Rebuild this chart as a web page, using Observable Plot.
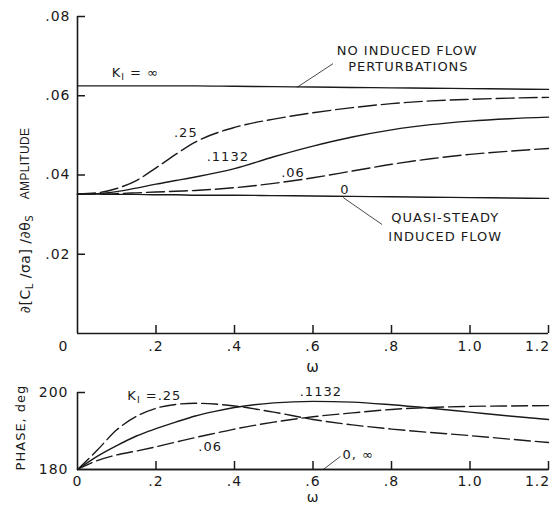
<!DOCTYPE html>
<html><head><meta charset="utf-8">
<script src="https://cdn.jsdelivr.net/npm/d3@7"></script>
<script src="https://cdn.jsdelivr.net/npm/@observablehq/plot@0.6"></script>
<style>
body{margin:0;background:#fff;}
#chart{position:relative;width:559px;height:507px;background:#fff;}
#chart svg{position:absolute;left:0;overflow:visible;}
#chart text{letter-spacing:1px;}
</style></head><body><div id="chart"></div>
<script>
// ---------- DATA ----------
// Amplitude panel
const omegaAmp = [0, 0.05, 0.1, 0.15, 0.2, 0.25, 0.3, 0.4, 0.5, 0.6, 0.7, 0.8, 0.9, 1.0, 1.1, 1.2];
const ampInf   = [.0625,.0625,.0625,.0625,.0625,.0625,.0625,.0624,.0623,.0622,.0621,.0620,.0619,.0618,.0617,.0616];
const amp25    = [.0352,.0355,.0366,.0386,.0418,.0452,.0483,.0520,.0541,.0557,.0570,.0580,.0587,.0591,.0594,.0596];
const amp1132  = [.0352,.0353,.0358,.0367,.0377,.0386,.0395,.0416,.0446,.0473,.0496,.0514,.0527,.0536,.0542,.0546];
const amp06    = [.0352,.0352,.0353,.0355,.0357,.0359,.0361,.0368,.0379,.0393,.0410,.0427,.0441,.0452,.0460,.0467];
const amp0     = [.0352,.0352,.0351,.0351,.0350,.0350,.0349,.0349,.0348,.0347,.0346,.0345,.0344,.0343,.0342,.0341];
// Phase panel
const omegaPh  = [0, 0.05, 0.1, 0.15, 0.2, 0.25, 0.3, 0.35, 0.4, 0.5, 0.6, 0.7, 0.8, 0.9, 1.0, 1.1, 1.2];
const ph25     = [180,185.0,190.3,193.8,195.9,196.9,197.2,197.0,196.5,194.9,193.0,191.6,190.5,189.6,188.8,187.9,187.0];
const ph1132   = [180,183.4,186.2,188.7,190.6,192.3,193.9,195.1,196.1,197.3,197.7,197.5,196.8,195.9,194.9,193.9,193.0];
const ph06     = [180,182.3,183.8,184.8,185.9,187.1,188.3,189.4,190.5,192.3,193.7,194.7,195.6,196.1,196.4,196.5,196.6];
const ph0inf   = [180,180,180,180,180,180,180,180,180,180,180,180,180,180,180,180,180];
// Ticks
const xTicks      = [0.2, 0.4, 0.6, 0.8, 1.0, 1.2];
const xLabelsTop  = [0.2, 0.4, 0.6, 0.8, 1.0];
const xLabelsBot  = [0, 0.2, 0.4, 0.6, 0.8, 1.0];
const xLabelEnd   = [1.2];
const yTicksAmp   = [0.02, 0.04, 0.06, 0.08];
const yTicksPh    = [200];
const yLabelsPh   = [180, 200];
// Annotations (text, position)
const ampLabels = [
  {t: "K_{I} = ∞", x: 0.087, y: 0.0659, a: "start"},
  {t: "NO INDUCED FLOW", x: 0.840, y: 0.0714, a: "middle"},
  {t: "PERTURBATIONS", x: 0.843, y: 0.0674, a: "middle"},
  {t: ".25", x: 0.276, y: 0.0507, a: "middle"},
  {t: ".1132", x: 0.383, y: 0.0447, a: "middle"},
  {t: ".06", x: 0.549, y: 0.0406, a: "middle"},
  {t: "0", x: 0.681, y: 0.0363, a: "middle"},
  {t: "QUASI-STEADY", x: 0.937, y: 0.0293, a: "middle"},
  {t: "INDUCED FLOW", x: 0.937, y: 0.0245, a: "middle"}
];
const ampLeaders = [
  {x1: 0.651, y1: 0.0681, x2: 0.559, y2: 0.0621},
  {x1: 0.677, y1: 0.0343, x2: 0.776, y2: 0.0275}
];
const phLabels = [
  {t: "K_{I} =.25", x: 0.127, y: 199.2, a: "start"},
  {t: ".1132", x: 0.620, y: 200.3, a: "middle"},
  {t: ".06", x: 0.338, y: 186.0, a: "middle"},
  {t: "0, ∞", x: 0.675, y: 183.9, a: "start"}
];
const phLeaders = [{x1: 0.670, y1: 183.4, x2: 0.626, y2: 180}];

// ---------- BUILD ----------
function longForm(xs, series) {
  const out = [];
  series.forEach(s => xs.forEach((w, i) => out.push({w, v: s.v[i], k: s.k, dash: s.dash})));
  return out;
}
const ampData = longForm(omegaAmp, [
  {k: "∞", v: ampInf, dash: false}, {k: ".25", v: amp25, dash: true},
  {k: ".1132", v: amp1132, dash: false}, {k: ".06", v: amp06, dash: true},
  {k: "0", v: amp0, dash: false}]);
const phData = longForm(omegaPh, [
  {k: ".25", v: ph25, dash: true}, {k: ".1132", v: ph1132, dash: false},
  {k: ".06", v: ph06, dash: true}, {k: "0,∞", v: ph0inf, dash: false}]);

const ink = "#1a1a1a";
const font = "DejaVu Sans";
const fmtX = d => d === 0 ? "0" : (d >= 1 ? d.toFixed(1) : d.toFixed(1).replace(/^0/, ""));

function textMarks(labels, fs) {
  return [
    Plot.text(labels.filter(d => d.a === "start"), {x: "x", y: "y", text: "t", textAnchor: "start", lineAnchor: "middle", fontSize: fs}),
    Plot.text(labels.filter(d => d.a === "middle"), {x: "x", y: "y", text: "t", textAnchor: "middle", lineAnchor: "middle", fontSize: fs})
  ];
}

const W = 559, mL = 77, mR = 11;
const frameW = W - mL - mR;

const topH = 380, topMT = 16, topMB = 47;
const topFH = topH - topMT - topMB;
const topPlot = Plot.plot({
  width: W, height: topH, marginTop: topMT, marginBottom: topMB, marginLeft: mL, marginRight: mR,
  style: {fontFamily: font, fontSize: "14px", color: ink, background: "transparent"},
  x: {domain: [0, 1.2]}, y: {domain: [0, 0.08]},
  marks: [
    Plot.ruleX([0], {stroke: ink, strokeWidth: 1.6}),
    Plot.ruleY([0], {stroke: ink, strokeWidth: 1.6}),
    Plot.tickY(yTicksAmp, {y: d => d, insetRight: frameW - 8, stroke: ink, strokeWidth: 1.5}),
    Plot.tickX(xTicks, {x: d => d, insetTop: topFH - 8, stroke: ink, strokeWidth: 1.5}),
    Plot.axisY(yTicksAmp, {tickSize: 0, tickPadding: 7, label: null, fontSize: 14,
      tickFormat: d => d.toFixed(2).replace(/^0/, "")}),
    Plot.axisX(xLabelsTop, {tickSize: 0, tickPadding: 8, label: null, fontSize: 14, tickFormat: fmtX}),
    Plot.axisX(xLabelEnd, {tickSize: 0, tickPadding: 8, label: null, fontSize: 14, tickFormat: fmtX, dx: -11}),
    Plot.text(["0"], {frameAnchor: "bottom-left", textAnchor: "middle", dx: -14, dy: 13.5, lineAnchor: "middle", fontSize: 14}),
    Plot.text(["ω"], {frameAnchor: "bottom", textAnchor: "middle", dy: 34, lineAnchor: "middle", fontSize: 15}),
    Plot.text(["AMPLITUDE"], {frameAnchor: "left", textAnchor: "middle", rotate: -90, dx: -52, dy: -11.5, lineAnchor: "middle", fontSize: 12, fontFamily: "Liberation Sans"}),
    Plot.text(["∂[C_{L} /σa] /∂θ_{S}"], {frameAnchor: "left", textAnchor: "middle", rotate: -90, dx: -52, dy: 89, lineAnchor: "middle", fontSize: 14}),
    Plot.line(ampData.filter(d => !d.dash), {x: "w", y: "v", z: "k", curve: "monotone-x", stroke: ink, strokeWidth: 1.4}),
    Plot.line(ampData.filter(d => d.dash), {x: "w", y: "v", z: "k", curve: "monotone-x", stroke: ink, strokeWidth: 1.4, strokeDasharray: "18,5"}),
    Plot.link(ampLeaders, {x1: "x1", y1: "y1", x2: "x2", y2: "y2", stroke: ink, strokeWidth: 0.8}),
    ...textMarks(ampLabels, 13)
  ]
});

const botH = 127, botMT = 12, botMB = 38;
const botFH = botH - botMT - botMB;
const botPlot = Plot.plot({
  width: W, height: botH, marginTop: botMT, marginBottom: botMB, marginLeft: mL, marginRight: mR,
  style: {fontFamily: font, fontSize: "14px", color: ink, background: "transparent"},
  x: {domain: [0, 1.2]}, y: {domain: [180, 200]},
  marks: [
    Plot.ruleX([0], {stroke: ink, strokeWidth: 1.6}),
    Plot.ruleY([180], {stroke: ink, strokeWidth: 1.6}),
    Plot.tickY(yTicksPh, {y: d => d, insetRight: frameW - 8, stroke: ink, strokeWidth: 1.5}),
    Plot.tickX(xTicks, {x: d => d, insetTop: botFH - 8, stroke: ink, strokeWidth: 1.5}),
    Plot.axisY(yLabelsPh, {tickSize: 0, tickPadding: 9, label: null, fontSize: 14, tickFormat: d => String(d)}),
    Plot.axisX(xLabelsBot, {tickSize: 0, tickPadding: 7, label: null, fontSize: 14, tickFormat: fmtX}),
    Plot.axisX(xLabelEnd, {tickSize: 0, tickPadding: 7, label: null, fontSize: 14, tickFormat: fmtX, dx: -11}),
    Plot.text(["ω"], {frameAnchor: "bottom", textAnchor: "middle", dy: 28, lineAnchor: "middle", fontSize: 14}),
    Plot.text(["PHASE, deg"], {frameAnchor: "left", textAnchor: "middle", rotate: -90, dx: -57, dy: -3.5, lineAnchor: "middle", fontSize: 13}),
    Plot.line(phData.filter(d => !d.dash), {x: "w", y: "v", z: "k", curve: "monotone-x", stroke: ink, strokeWidth: 1.4}),
    Plot.line(phData.filter(d => d.dash), {x: "w", y: "v", z: "k", curve: "monotone-x", stroke: ink, strokeWidth: 1.4, strokeDasharray: "16,5"}),
    Plot.link(phLeaders, {x1: "x1", y1: "y1", x2: "x2", y2: "y2", stroke: ink, strokeWidth: 0.8}),
    ...textMarks(phLabels, 13)
  ]
});

function subscripts(svg) {
  svg.querySelectorAll("text").forEach(t => {
    const s = t.textContent;
    if (s === "AMPLITUDE") t.style.letterSpacing = "0.3px";
    if (s.startsWith("∂[")) t.style.letterSpacing = "0.5px";
    if (!s.includes("_{") || t.children.length) return;
    const parts = s.split(/(_\{[^}]*\})/);
    t.textContent = "";
    for (const p of parts) {
      if (!p) continue;
      const ts = document.createElementNS("http://www.w3.org/2000/svg", "tspan");
      if (p.startsWith("_{")) {
        ts.textContent = p.slice(2, -1);
        ts.setAttribute("baseline-shift", "-30%");
        ts.setAttribute("font-size", "72%");
      } else ts.textContent = p;
      t.appendChild(ts);
    }
  });
}
subscripts(topPlot);
subscripts(botPlot);
topPlot.style.top = "0px";
botPlot.style.top = "380px";
const chart = document.getElementById("chart");
chart.appendChild(topPlot);
chart.appendChild(botPlot);
</script>
</body></html>
